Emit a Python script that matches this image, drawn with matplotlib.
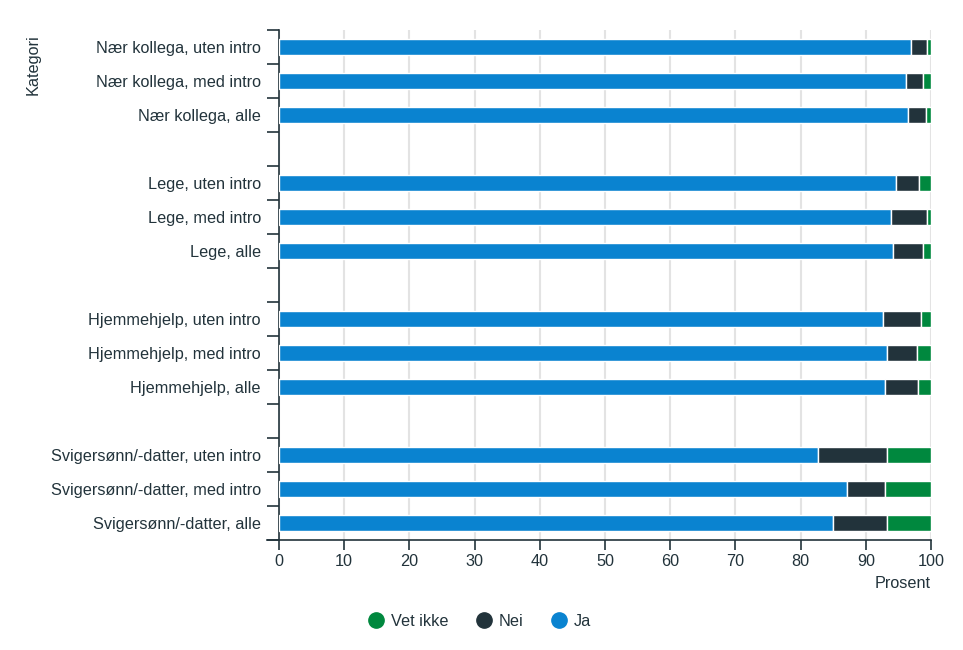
import matplotlib
matplotlib.use('Agg')
import matplotlib.pyplot as plt
from matplotlib.lines import Line2D
import numpy as np

plt.rcParams['font.family'] = ['Liberation Sans', 'DejaVu Sans']

# data (prosent)
categories = [
    'Nær kollega, uten intro', 'Nær kollega, med intro', 'Nær kollega, alle',
    'Lege, uten intro', 'Lege, med intro', 'Lege, alle',
    'Hjemmehjelp, uten intro', 'Hjemmehjelp, med intro', 'Hjemmehjelp, alle',
    'Svigersønn/-datter, uten intro', 'Svigersønn/-datter, med intro', 'Svigersønn/-datter, alle',
]
ja = [97.0, 96.1, 96.5, 94.6, 93.8, 94.2, 92.6, 93.2, 93.0, 82.7, 87.1, 85.0]
nei = [2.4, 2.7, 2.7, 3.6, 5.6, 4.6, 5.8, 4.7, 5.0, 10.5, 5.9, 8.2]
vet_ikke = [0.6, 1.2, 0.8, 1.8, 0.6, 1.2, 1.6, 2.1, 2.0, 6.8, 7.0, 6.8]

C_JA = '#0a83d0'
C_NEI = '#22333b'
C_VI = '#00883e'
DARK = '#22333b'
FS = 11.7

# 3 bars per group, one empty slot between groups
pos = np.array([(i // 3) * 4 + i % 3 for i in range(len(categories))])
ja = np.array(ja)
nei = np.array(nei)
vet_ikke = np.array(vet_ikke)

fig = plt.figure(figsize=(9.63, 6.5), dpi=100)
ax = fig.add_axes([0.2897, 0.1692, 0.6771, 0.7846])

h = 0.47
kw = dict(height=h, edgecolor='white', linewidth=1, zorder=3)
ax.barh(pos, ja, color=C_JA, **kw)
ax.barh(pos, nei, left=ja, color=C_NEI, **kw)
ax.barh(pos, vet_ikke, left=ja + nei, color=C_VI, **kw)

ax.set_ylim(14.5, -0.5)
ax.set_xlim(0, 100)

ax.set_yticks(pos)
ax.set_yticklabels(categories, fontsize=FS, color=DARK)
ax.tick_params(axis='y', which='major', length=0, pad=13)
ax.set_yticks(np.arange(-0.5, 15, 1), minor=True)
ax.tick_params(axis='y', which='minor', length=9, width=1.2, color=DARK)

ax.set_xticks(np.arange(0, 101, 10))
ax.tick_params(axis='x', length=7, width=1.2, color=DARK, labelsize=FS,
               labelcolor=DARK, pad=3)

ax.grid(axis='x', color='#e3e3e3', linewidth=1.5, zorder=0)
ax.set_axisbelow(True)

for s in ['top', 'right']:
    ax.spines[s].set_visible(False)
for s in ['left', 'bottom']:
    ax.spines[s].set_color(DARK)
    ax.spines[s].set_linewidth(1.2)
ax.spines['bottom'].set_bounds(-1.8, 100)
ax.spines['bottom'].set_zorder(5)

fig.text(0.9668, 1 - 583 / 650, 'Prosent', ha='right', va='center',
         fontsize=FS, color=DARK)
fig.text(33 / 963, 1 - 65 / 650, 'Kategori', ha='center', va='center',
         rotation=90, fontsize=FS, color=DARK)

handles = [
    Line2D([], [], marker='o', linestyle='', markersize=11, color=C_VI, label='Vet ikke'),
    Line2D([], [], marker='o', linestyle='', markersize=11, color=C_NEI, label='Nei'),
    Line2D([], [], marker='o', linestyle='', markersize=11, color=C_JA, label='Ja'),
]
leg = fig.legend(handles=handles, loc='center', bbox_to_anchor=(0.497, 1 - 621 / 650),
                 ncol=3, frameon=False, fontsize=FS, handletextpad=0.3,
                 columnspacing=1.6, handlelength=1.2)
for t in leg.get_texts():
    t.set_color(DARK)

fig.savefig('out.png', dpi=100, facecolor='white')
